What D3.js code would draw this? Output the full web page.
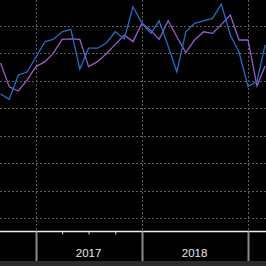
<!DOCTYPE html>
<html>
<head>
<meta charset="utf-8">
<script src="https://cdn.jsdelivr.net/npm/d3@7"></script>
<style>
  html, body { margin: 0; padding: 0; background: #000; }
  svg { display: block; }
</style>
</head>
<body>
<div id="chart"></div>
<script>
var width = 266, height = 266,
    axisY = 231.5, plotBottom = 231;

// monthly points, Sep 2016 .. Mar 2019
var months = ["2016-09","2016-10","2016-11","2016-12",
  "2017-01","2017-02","2017-03","2017-04","2017-05","2017-06","2017-07","2017-08","2017-09","2017-10","2017-11","2017-12",
  "2018-01","2018-02","2018-03","2018-04","2018-05","2018-06","2018-07","2018-08","2018-09","2018-10","2018-11","2018-12",
  "2019-01","2019-02","2019-03"];

var blueValues = [5.52,5.33,6.21,6.32,
  6.87,7.43,7.51,7.79,7.88,6.43,7.19,7.19,7.39,7.79,7.53,8.70,
  8.10,7.73,8.19,7.27,6.33,7.79,8.10,8.19,8.28,8.80,7.67,7.05,
  5.79,5.98,7.31];

var purpleValues = [6.65,5.78,5.63,6.03,
  6.52,6.70,7.00,7.51,7.53,7.51,6.52,6.70,7.00,7.33,7.67,7.43,
  8.10,7.83,7.51,8.19,7.61,7.03,7.49,7.79,7.73,8.05,8.40,7.49,
  7.49,5.81,6.54];

var gridValues = [1,2,3,4,5,6,7,8,9];
var yearLabels = ["2017","2018"];

var parse = d3.timeParse("%Y-%m");

var x = d3.scaleTime()
    .domain([parse("2017-01"), parse("2018-01")])
    .range([36, 142]);

var y = d3.scaleLinear()
    .domain([1, 8])
    .range([218, 26]);

var svg = d3.select("#chart").append("svg")
    .attr("width", width)
    .attr("height", height);

svg.append("rect")
    .attr("width", width)
    .attr("height", height)
    .attr("fill", "#000");

// horizontal dotted grid
svg.append("g").selectAll("line")
    .data(gridValues)
  .enter().append("line")
    .attr("x1", 0)
    .attr("x2", width)
    .attr("y1", function(d) { return Math.round(y(d)) + 0.5; })
    .attr("y2", function(d) { return Math.round(y(d)) + 0.5; })
    .attr("stroke", "#5e5e5e")
    .attr("stroke-dasharray", "2,2");

// vertical dotted grid at year starts
var yearStarts = x.ticks(d3.timeYear.every(1)).concat([parse("2019-01")]);
svg.append("g").selectAll("line")
    .data(yearStarts)
  .enter().append("line")
    .attr("x1", function(d) { return Math.round(x(d)) + 0.5; })
    .attr("x2", function(d) { return Math.round(x(d)) + 0.5; })
    .attr("y1", 0)
    .attr("y2", plotBottom)
    .attr("stroke", "#5e5e5e")
    .attr("stroke-dasharray", "2,2");

var line = d3.line()
    .x(function(d) { return x(d.date); })
    .y(function(d) { return y(d.value); });

function series(values) {
  return values.map(function(v, i) { return {date: parse(months[i]), value: v}; });
}

svg.append("path")
    .datum(series(purpleValues))
    .attr("fill", "none")
    .attr("stroke", "#9a5ec4")
    .attr("stroke-width", 1.3)
    .attr("d", line);

svg.append("path")
    .datum(series(blueValues))
    .attr("fill", "none")
    .attr("stroke", "#1f6fc6")
    .attr("stroke-width", 1.3)
    .attr("d", line);

// bottom band
svg.append("rect")
    .attr("x", 0)
    .attr("y", 261)
    .attr("width", width)
    .attr("height", 5)
    .attr("fill", "#2b2b2b");

// axis
var axis = d3.axisBottom(x)
    .ticks(d3.timeMonth.every(3))
    .tickSize(3)
    .tickFormat("");

var gx = svg.append("g")
    .attr("transform", "translate(0," + axisY + ")")
    .call(axis);
gx.select(".domain").remove();
gx.selectAll(".tick line").attr("stroke", "#ddd");

svg.append("line")
    .attr("x1", 0).attr("x2", width)
    .attr("y1", axisY).attr("y2", axisY)
    .attr("stroke", "#eee")
    .attr("stroke-width", 1.5);

// year separators
svg.append("g").selectAll("line")
    .data(yearStarts)
  .enter().append("line")
    .attr("x1", function(d) { return Math.round(x(d)) + 0.5; })
    .attr("x2", function(d) { return Math.round(x(d)) + 0.5; })
    .attr("y1", axisY)
    .attr("y2", 261)
    .attr("stroke", "#8a8a8a")
    .attr("stroke-width", 2);

// year labels centred in each year
svg.append("g").selectAll("text")
    .data(yearLabels)
  .enter().append("text")
    .attr("x", function(d) { return x(d3.timeMonth.offset(parse(d + "-01"), 6)); })
    .attr("y", 257)
    .attr("text-anchor", "middle")
    .attr("fill", "#e6e6e6")
    .style("font-family", "Arial, 'Liberation Sans', sans-serif")
    .style("font-size", "11.5px")
    .text(function(d) { return d; });
</script>
</body>
</html>
